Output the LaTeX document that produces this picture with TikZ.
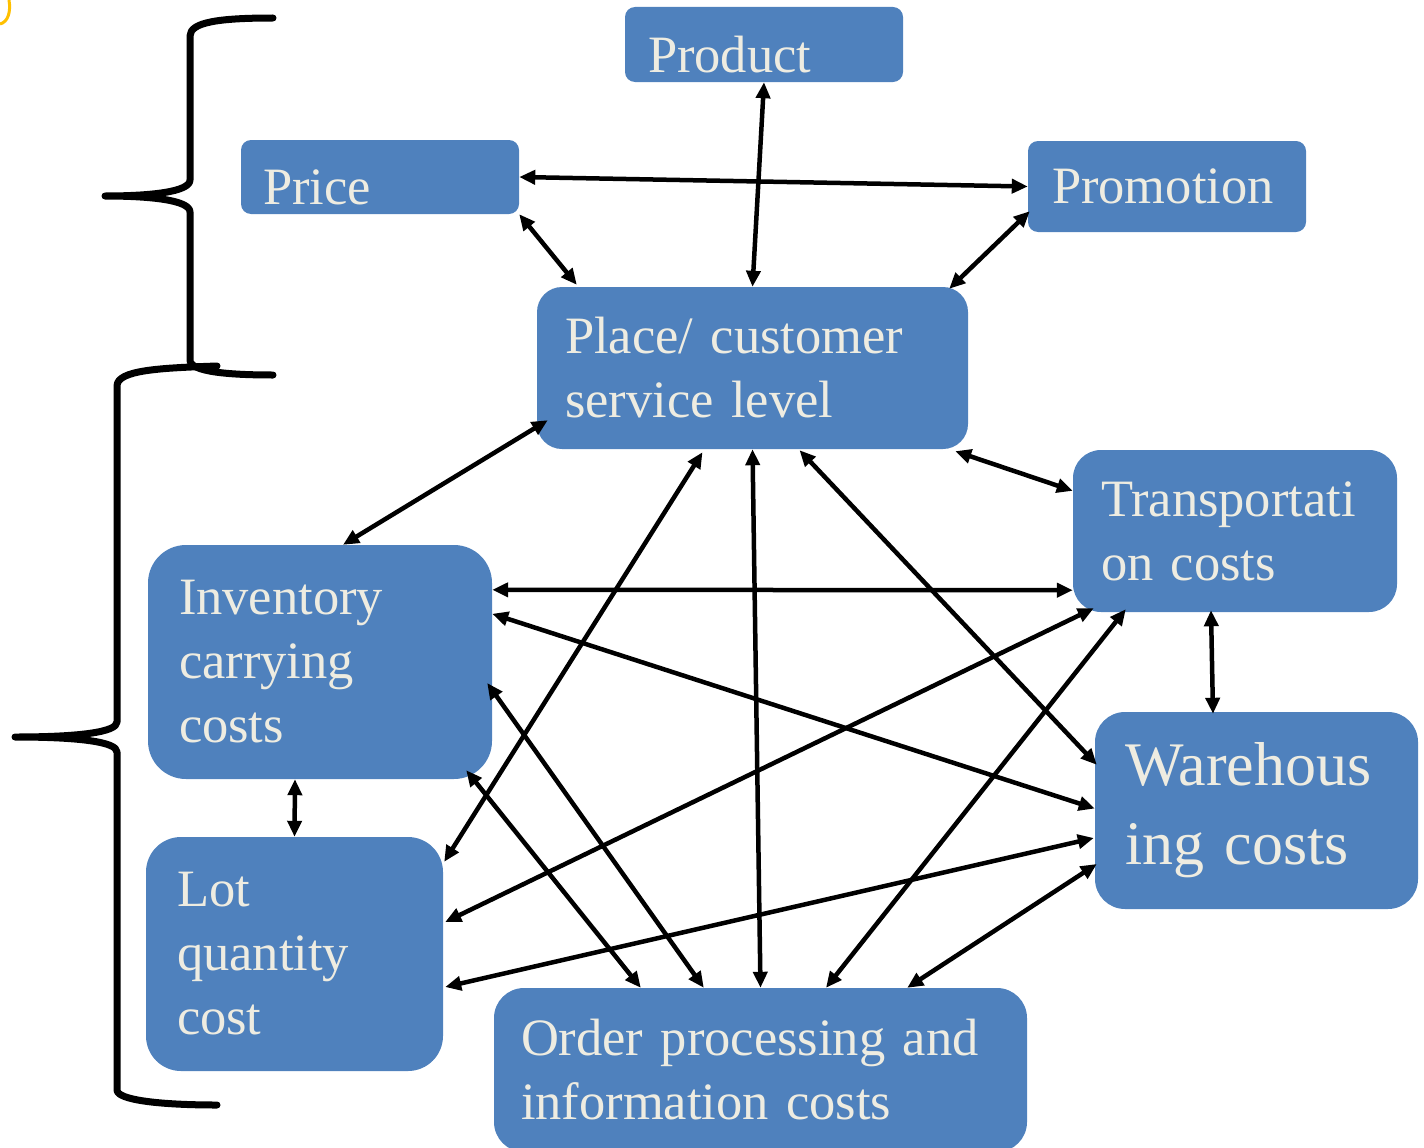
\documentclass[tikz,border=0pt]{standalone}
\usepackage{fontspec}
\setmainfont{Liberation Serif}
\usepackage{xcolor}
\usetikzlibrary{arrows.meta,calc}

\definecolor{boxblue}{HTML}{4F81BD}
\definecolor{boxtext}{HTML}{EEECE1}
\definecolor{markyellow}{HTML}{FFC000}

\begin{document}
\begin{tikzpicture}[
  x=1pt, y=-1pt,
  blk/.style={fill=boxblue, draw=none, text=boxtext, align=left, inner sep=0pt,
              font=\fontsize{52.5}{64}\selectfont},
  bigblk/.style={blk, font=\fontsize{62}{79}\selectfont},
  arr/.style={{Triangle[length=16pt,width=14pt]}-{Triangle[length=16pt,width=14pt]}, line width=4.5pt},
  brace/.style={line width=7pt, line cap=round, line join=round}
]
  \useasboundingbox (0,0) rectangle (1424,1148);

  % Marketing mix
  \node[blk, rounded corners=10pt, minimum width=278pt, minimum height=75pt, text width=232pt,
        text height=57pt, text depth=0pt] (product) at (764,44.5) {Product};
  \node[blk, rounded corners=10pt, minimum width=278pt, minimum height=74pt, text width=234pt,
        text height=54pt, text depth=0pt] (price) at (380,177) {Price};
  \node[blk, rounded corners=10pt, minimum width=278pt, minimum height=91pt, text width=230pt] (promo) at (1167,186.5) {Promotion};
  \node[blk, rounded corners=25pt, minimum width=431pt, minimum height=162pt, text width=375pt] (place) at (752.5,368) {Place/ customer\\service level};

  % Cost boxes
  \node[blk, rounded corners=28pt, minimum width=324pt, minimum height=162pt, text width=268pt] (transp) at (1235,531) {Transportati\\on costs};
  \node[blk, rounded corners=38pt, minimum width=344pt, minimum height=234pt, text width=282pt] (invent) at (320,662) {Inventory\\carrying\\costs};
  \node[bigblk, rounded corners=30pt, minimum width=323pt, minimum height=197pt, text width=263pt] (wareh) at (1256.5,810.5) {Warehous\\ing costs};
  \node[blk, rounded corners=35pt, minimum width=297pt, minimum height=234pt, text width=235pt] (lot) at (294.5,954) {Lot\\quantity\\cost};
  \node[blk, rounded corners=30pt, minimum width=533pt, minimum height=164pt, text width=479pt] (order) at (760.5,1070) {Order processing and\\information costs};

  % Links around place
  \draw[arr] (product.south) -- (place.north);
  \draw[arr] (price.east) -- (promo.west);
  \draw[arr] (price.south east) -- ($(place.north west)+(40,-2)$);
  \draw[arr] ($(promo.south west)+(2,-21)$) -- ($(place.north east)+(-19,2)$);
  \draw[arr] ($(place.south west)+(11,-29)$) -- ($(invent.north)+(23,0)$);
  \draw[arr] ($(place.south east)+(-13,2)$) -- ($(transp.north west)+(0,41)$);
  \draw[arr] ($(place.south)+(-50,3)$) -- ($(lot.north east)+(1,25)$);
  \draw[arr] (place.south) -- (order.north);
  \draw[arr] ($(place.south)+(47,1)$) -- ($(wareh.north west)+(2,53)$);

  % Links between costs
  \draw[arr] ($(invent.north east)+(0,45)$) -- ($(transp.south west)+(0,-22)$);
  \draw[arr] ($(invent.north east)+(0,69)$) -- ($(wareh.west)+(0,-2)$);
  \draw[arr] ($(invent.east)+(-5,21)$) -- ($(order.north west)+(210,0)$);
  \draw[arr] ($(invent.south east)+(-26,-9)$) -- ($(order.north west)+(147,0)$);
  \draw[arr] ($(invent.south)+(-25,0)$) -- (lot.north);
  \draw[arr] ($(transp.south)+(-24,-2)$) -- ($(wareh.north)+(-43.5,2)$);
  \draw[arr] ($(transp.south west)+(21,-4)$) -- ($(lot.east)+(2,-32)$);
  \draw[arr] ($(transp.south west)+(53,-3)$) -- ($(order.north)+(65.5,0)$);
  \draw[arr] ($(wareh.west)+(-1,27.5)$) -- ($(lot.east)+(2,33)$);
  \draw[arr] ($(wareh.west)+(2,53.5)$) -- ($(order.north east)+(-120,0)$);

  % Braces
  \draw[brace] (273,18) .. controls (220,18) and (190,22) .. (190,36) -- (190,180)
    .. controls (190,192) and (150,196) .. (105,196)
    .. controls (150,196) and (190,200) .. (190,212) -- (190,360)
    .. controls (190,372) and (230,375) .. (273,375);
  \draw[brace] (217,366) .. controls (160,368) and (117,370) .. (117,386) -- (117,722)
    .. controls (117,732) and (80,737) .. (15,737)
    .. controls (80,737) and (117,742) .. (117,752) -- (117,1090)
    .. controls (117,1100) and (160,1105) .. (217,1105);

  % Yellow mark
  \draw[markyellow, line width=3pt] (0,24) .. controls (8,22) and (11,12) .. (9,0);
\end{tikzpicture}
\end{document}
